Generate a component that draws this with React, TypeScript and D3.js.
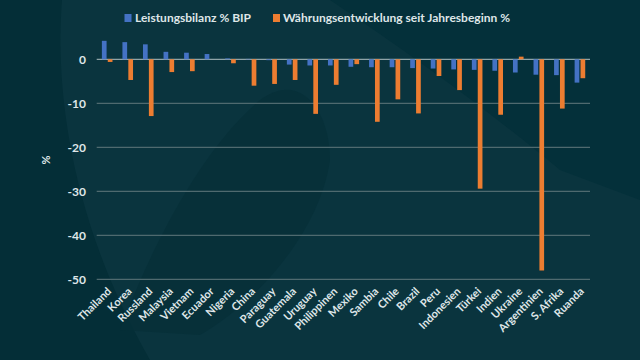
import React from "react";
import * as d3 from "d3";

const categories = ["Thailand","Korea","Russland","Malaysia","Vietnam","Ecuador","Nigeria","China","Paraguay","Guatemala","Uruguay","Philippinen","Mexiko","Sambia","Chile","Brazil","Peru","Indonesien","Türkei","Indien","Ukraine","Argentinien","S. Afrika","Ruanda"];
const leistungsbilanz = [4.2,3.9,3.4,1.7,1.5,1.2,0.2,0.1,-0.2,-1.2,-1.4,-1.4,-1.7,-1.8,-1.8,-2.0,-2.1,-2.3,-2.4,-2.6,-3.0,-3.5,-3.6,-5.3];
const waehrung = [-0.6,-4.7,-12.9,-2.9,-2.7,0,-0.9,-6.0,-5.6,-4.7,-12.4,-5.8,-1.1,-14.2,-9.1,-12.3,-3.8,-7.0,-29.4,-12.6,0.6,-48.0,-11.2,-4.3];
const yTicks = [0,-10,-20,-30,-40,-50];
const seriesNames = ["Leistungsbilanz % BIP","Währungsentwicklung seit Jahresbeginn %"];
const colors = ["#4472C4","#ED7D31"];

export default function App() {
  const W = 640, H = 360;
  const x0 = 96.7, x1 = 590;
  const y = d3.scaleLinear().domain([0, -50]).range([59.3, 279.3]);
  const x = d3.scaleBand<string>().domain(categories).range([x0, x1]).paddingInner(0).paddingOuter(0);
  const bw = 4.7;
  const font = "Lato, 'Open Sans', sans-serif";
  const textColor = "#dfe6e8";
  return (
    <div style={{ position: "fixed", left: 0, top: 0 }}>
      <svg width={W} height={H} style={{ display: "block" }}>
        <rect width={W} height={H} fill="#042e37" />
        <path d="M62,0 C55,90 70,220 150,360 L640,360 L640,0 Z" fill="#0a343e" />
        <path d="M330,0 C420,60 500,120 560,170 L640,200 L640,0 Z" fill="#04303a" />
        <path d="M120,330 C150,250 200,150 260,100 C300,70 330,110 330,160 C320,230 260,300 200,335 Z" fill="#062f38" opacity={0.8} />
        {yTicks.map((t) => (
          <g key={t}>
            <line x1={x0} x2={x1} y1={y(t)} y2={y(t)} stroke={t === 0 ? "#8fa3a7" : "#4f6a6f"} strokeWidth={1.2} />
            <text x={86} y={y(t)} dy="0.35em" textAnchor="end" fill={textColor} fontFamily={font} fontWeight={700} fontSize={12}>{t}</text>
          </g>
        ))}
        <text transform={`translate(46,160) rotate(-90)`} textAnchor="middle" dy="0.35em" fill={textColor} fontFamily={font} fontWeight={700} fontSize={11}>%</text>
        {categories.map((c, i) => {
          const cx = (x(c) as number) + x.bandwidth() / 2;
          const a = leistungsbilanz[i], b = waehrung[i];
          return (
            <g key={c}>
              <rect x={cx - bw - 0.4} y={Math.min(y(a), y(0))} width={bw} height={Math.abs(y(a) - y(0))} fill={colors[0]} />
              <rect x={cx + 0.8} y={Math.min(y(b), y(0))} width={bw} height={Math.abs(y(b) - y(0))} fill={colors[1]} />
              <text transform={`translate(${cx + 5},${292}) rotate(-45)`} textAnchor="end" fill={textColor} fontFamily={font} fontWeight={700} fontSize={11}>{c}</text>
            </g>
          );
        })}
        <g fontFamily={font} fontWeight={700} fontSize={12} fill={textColor}>
          <rect x={124.5} y={14} width={7} height={8} fill={colors[0]} />
          <text x={135} y={18} dy="0.35em">{seriesNames[0]}</text>
          <rect x={273} y={14} width={7} height={8} fill={colors[1]} />
          <text x={283} y={18} dy="0.35em">{seriesNames[1]}</text>
        </g>
      </svg>
    </div>
  );
}
